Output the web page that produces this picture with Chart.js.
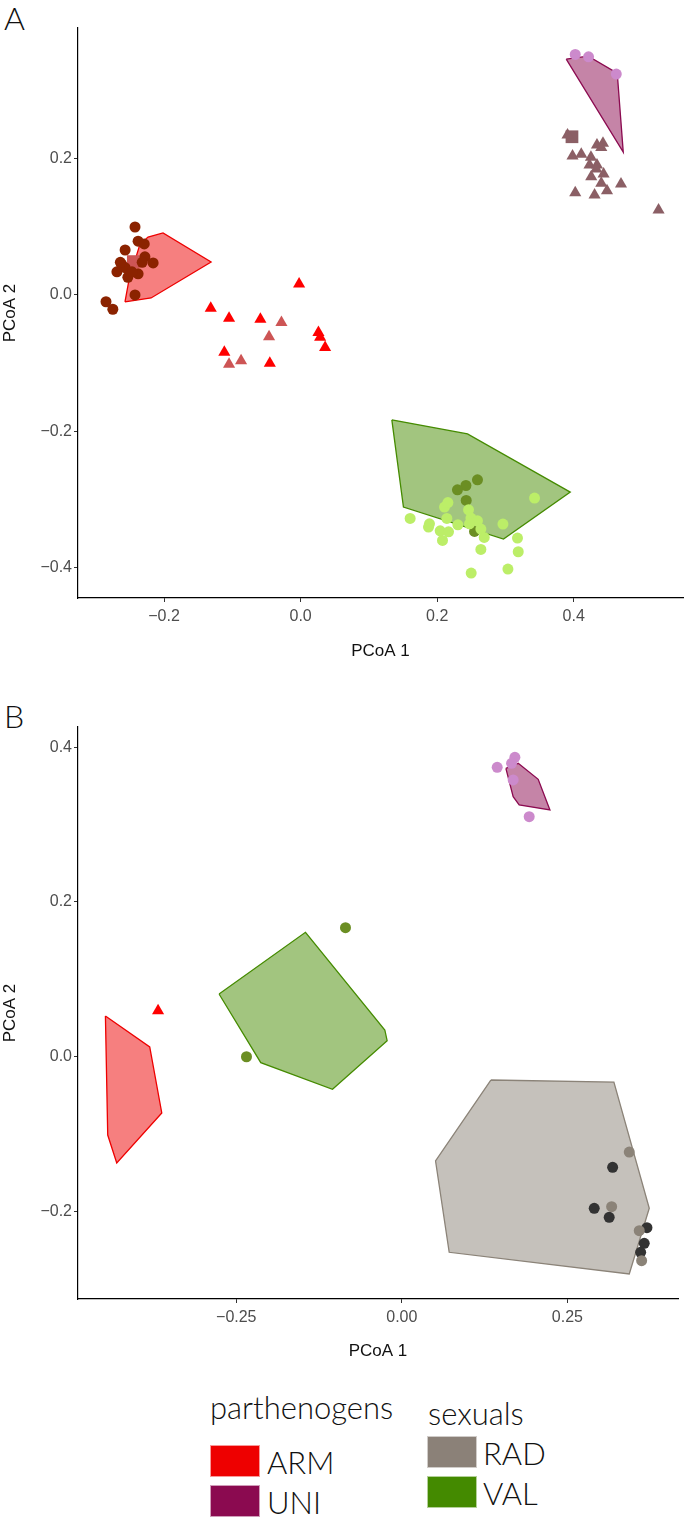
<!DOCTYPE html>
<html>
<head>
<meta charset="utf-8">
<script src="https://cdn.jsdelivr.net/npm/chart.js@4/dist/chart.umd.min.js"></script>
<style>
  body { margin: 0; background: #fff; width: 685px; height: 1526px; position: relative; overflow: hidden; }
  .box { position: absolute; left: 0; width: 685px; }
  .tag { position: absolute; left: 4px; font-family: Lato, "DejaVu Sans", sans-serif; font-weight: 300; font-size: 32px; color: #111; line-height: 1; }
  .legend { position: absolute; font-family: Lato, "DejaVu Sans", sans-serif; font-weight: 300; color: #111; }
  .legend .title { position: absolute; font-size: 31px; white-space: nowrap; line-height: 1; }
  .legend .sw { position: absolute; width: 50px; height: 32px; box-sizing: border-box; border: 1px solid rgba(255,255,255,0.6); }
  .legend .lab { position: absolute; font-size: 31px; line-height: 1; white-space: nowrap; }
</style>
</head>
<body>
<div class="tag" style="top:2px">A</div>
<div class="tag" style="top:700px">B</div>
<div class="box" style="top:0;height:680px"><canvas id="chartA"></canvas></div>
<div class="box" style="top:690px;height:690px"><canvas id="chartB"></canvas></div>
<div class="legend" id="legend"></div>

<script>
// ---- colours per group ----
const ARM = '#ee0000';
const UNI = '#8b0a50';
const RAD = '#8b8378';
const VAL = '#458b00';

// ---- panel A (PCoA 1, PCoA 2) ----
const xTicksA = [-0.2, 0, 0.2, 0.4];
const yTicksA = [-0.4, -0.2, 0, 0.2];

const armHullA = [[-0.2572, -0.0103], [-0.2513, 0.0220], [-0.2352, 0.0748], [-0.2234, 0.0851],
  [-0.2015, 0.0910], [-0.1311, 0.0484], [-0.2190, -0.0044]];
const armCirclesA = [[-0.2425, 0.0998], [-0.238, 0.079], [-0.229, 0.075], [-0.257, 0.066], [-0.228, 0.056],
  [-0.216, 0.047], [-0.269, 0.034], [-0.262, 0.045], [-0.253, 0.026], [-0.238, 0.031], [-0.2425, 0.0],
  [-0.285, -0.010], [-0.275, -0.021], [-0.257, 0.040], [-0.247, 0.034], [-0.232, 0.048], [-0.264, 0.048]];
const armSquaresA = [[-0.245, 0.049]];
const armTrianglesA = [[-0.0022, 0.0161], [-0.1316, -0.0195], [-0.1048, -0.0342], [-0.0589, -0.0357],
  [-0.1117, -0.0841], [-0.0451, -0.1002], [0.0261, -0.0553], [0.0286, -0.0621], [0.0359, -0.0773]];
const armTrianglesPaleA = [[-0.0281, -0.0406], [-0.0462, -0.0612], [-0.0872, -0.0968], [-0.1048, -0.1017]];

const uniHullA = [[0.3890, 0.3463], [0.4212, 0.3507], [0.4637, 0.3258], [0.4725, 0.2098]];
const uniCirclesA = [[0.4022, 0.3532], [0.4217, 0.3497], [0.4623, 0.3243]];
const uniTrianglesA = [[0.3909, 0.2348], [0.4340, 0.2201], [0.4428, 0.2226], [0.4403, 0.2167], [0.3982, 0.2040],
  [0.4110, 0.2065], [0.4252, 0.2021], [0.4231, 0.1908], [0.4340, 0.1908], [0.4330, 0.1849], [0.4437, 0.1776],
  [0.4256, 0.1736], [0.4403, 0.1639], [0.4487, 0.1530], [0.4692, 0.1629], [0.4022, 0.1501], [0.4305, 0.1467],
  [0.5242, 0.1247]];
const uniSquaresA = [[0.3974, 0.2323]];

const valHullA = [[0.1336, -0.1834], [0.2444, -0.2040], [0.3949, -0.2895], [0.2971, -0.3585], [0.1506, -0.3115]];
const valDarkA = [[0.2590, -0.2715], [0.2421, -0.2798], [0.2297, -0.2861], [0.2425, -0.3018], [0.2547, -0.3473]];
const valLightA = [[0.3426, -0.2983], [0.1604, -0.3282], [0.1887, -0.3360], [0.1873, -0.3409], [0.2107, -0.3115],
  [0.2157, -0.3048], [0.2142, -0.3282], [0.2303, -0.3375], [0.2044, -0.3463], [0.2166, -0.3478], [0.2078, -0.3605],
  [0.2459, -0.3155], [0.2494, -0.3277], [0.2590, -0.3316], [0.2473, -0.3360], [0.2640, -0.3438], [0.2689, -0.3561],
  [0.2963, -0.3365], [0.3176, -0.3570], [0.3187, -0.3771], [0.2640, -0.3737], [0.3036, -0.4025], [0.2498, -0.4084]];

// ---- panel B ----
const xTicksB = [-0.25, 0, 0.25];
const yTicksB = [-0.2, 0, 0.2, 0.4];

const armHullB = [[-0.4476, 0.0524], [-0.3807, 0.0123], [-0.3625, -0.0730], [-0.4305, -0.1377], [-0.4441, -0.1015]];
const armTrianglesB = [[-0.3681, 0.0592]];

const valHullB = [[-0.2760, 0.0808], [-0.1455, 0.1606], [-0.0257, 0.0343], [-0.0222, 0.0204], [-0.1047, -0.0424], [-0.2130, -0.0080]];
const valDarkB = [[-0.0851, 0.1665], [-0.2346, -0.0003]];

const uniHullB = [[0.1571, 0.3726], [0.1757, 0.3791], [0.2059, 0.3584], [0.2236, 0.3188], [0.1772, 0.3253], [0.1681, 0.3359]];
const uniCirclesB = [[0.1440, 0.3739], [0.1707, 0.3868], [0.1657, 0.3791], [0.1681, 0.3575], [0.1923, 0.3100]];

const radHullB = [[0.1344, -0.0304], [0.3202, -0.0330], [0.3736, -0.1962], [0.3434, -0.2812], [0.0715, -0.2531], [0.0509, -0.1351]];
const radGreyB = [[0.3434, -0.1235], [0.3168, -0.1942], [0.3585, -0.2252], [0.3621, -0.2640]];
const radDarkB = [[0.3183, -0.1432], [0.2905, -0.1963], [0.3131, -0.2079], [0.3701, -0.2213], [0.3660, -0.2415], [0.3606, -0.2531]];

// ---- legend ----
const legendGroups = [
  { title: 'parthenogens', names: ['ARM', 'UNI'], colors: [ARM, UNI] },
  { title: 'sexuals', names: ['RAD', 'VAL'], colors: ['#8b8178', '#448a00'] }
];

function pts(arr) { return arr.map(p => ({ x: p[0], y: p[1] })); }

function fade(hex, a) {
  const n = parseInt(hex.slice(1), 16);
  return 'rgba(' + (n >> 16) + ',' + ((n >> 8) & 255) + ',' + (n & 255) + ',' + a + ')';
}

function hull(arr, color) {
  const closed = arr.concat([arr[0]]);
  return {
    type: 'line', data: pts(closed), borderColor: color, borderWidth: 1.3,
    backgroundColor: fade(color, 0.5), fill: 'shape', pointRadius: 0, tension: 0, order: 2
  };
}

function marks(arr, color, style, r) {
  return {
    type: 'scatter', data: pts(arr), pointStyle: style, pointRadius: r,
    backgroundColor: color, borderWidth: 0, order: 1
  };
}

function fmt(dec) {
  return v => (v < -1e-9 ? '\u2212' : '') + Math.abs(v).toFixed(dec);
}

function axis(min, max, ticks, dec, title, pad, extra) {
  return Object.assign({
    type: 'linear', min: min, max: max,
    afterBuildTicks: s => { s.ticks = ticks.map(v => ({ value: v })); },
    grid: { display: true, drawOnChartArea: false, drawTicks: true, tickLength: 4, color: '#333', lineWidth: 1 },
    border: { display: true, color: '#000', width: 1.2 },
    ticks: { callback: fmt(dec), color: '#4d4d4d', font: { family: 'Liberation Sans, Arial', size: 16 }, padding: pad, maxRotation: 0 },
    title: { display: true, text: title, color: '#111', font: { family: 'Liberation Sans, Arial', size: 17 } }
  }, extra);
}

function makeChart(id, o) {
  return new Chart(document.getElementById(id), {
    type: 'scatter',
    data: { datasets: o.datasets },
    options: {
      responsive: true, maintainAspectRatio: false, animation: false, events: [],
      layout: { padding: { top: o.top, right: o.right, left: 0, bottom: 0 }, autoPadding: false },
      plugins: { legend: { display: false }, tooltip: { enabled: false } },
      scales: {
        x: axis(o.xmin, o.xmax, o.xticks, o.xdec, 'PCoA 1', 5, {
          afterFit: s => { s.height = o.xh; }
        }),
        y: axis(o.ymin, o.ymax, o.yticks, o.ydec, 'PCoA 2', 2, {
          afterFit: s => { s.width = 78; }
        })
      }
    }
  });
}

const chartA = makeChart('chartA', {
  top: 28, right: 2, xh: 82,
  xmin: -0.326, xmax: 0.560, xticks: xTicksA, xdec: 1,
  ymin: -0.445, ymax: 0.392, yticks: yTicksA, ydec: 1,
  datasets: [
    hull(armHullA, ARM), hull(uniHullA, UNI), hull(valHullA, VAL),
    marks(armCirclesA, '#8b2300', 'circle', 5.5),
    marks(armSquaresA, '#cd5555', 'rect', 9),
    marks(armTrianglesA, '#ff0000', 'triangle', 7),
    marks(armTrianglesPaleA, '#cd5555', 'triangle', 7),
    marks(uniCirclesA, '#cc8acc', 'circle', 5.5),
    marks(uniTrianglesA, '#8b5f65', 'triangle', 7),
    marks(uniSquaresA, '#8b5f65', 'rect', 9),
    marks(valLightA, '#bcee68', 'circle', 5.5),
    marks(valDarkA, '#6b8e23', 'circle', 5.5)
  ]
});

const chartB = makeChart('chartB', {
  top: 37, right: 7, xh: 81,
  xmin: -0.489, xmax: 0.417, xticks: xTicksB, xdec: 2,
  ymin: -0.3135, ymax: 0.426, yticks: yTicksB, ydec: 1,
  datasets: [
    hull(armHullB, ARM), hull(valHullB, VAL), hull(uniHullB, UNI), hull(radHullB, RAD),
    marks(armTrianglesB, '#ff0000', 'triangle', 7),
    marks(valDarkB, '#6b8e23', 'circle', 5.5),
    marks(uniCirclesB, '#cc8acc', 'circle', 5.5),
    marks(radGreyB, '#8b8378', 'circle', 5.5),
    marks(radDarkB, '#333333', 'circle', 5.5)
  ]
});

// title offsets from the axis edges
[chartA, chartB].forEach(c => {
  c.options.scales.x.title.padding = { top: 0, bottom: 18 };
  c.options.scales.y.title.padding = { top: 0, bottom: 0 };
  c.update();
});

// legend built from the group arrays
const legend = document.getElementById('legend');
const legendPos = [
  { tx: 210, ty: 1392, sx: 210, sy: [1445, 1485], lx: 267 },
  { tx: 428, ty: 1398, sx: 427, sy: [1436, 1476], lx: 483 }
];
legendGroups.forEach((g, i) => {
  const p = legendPos[i];
  let html = '<div class="title" style="left:' + p.tx + 'px;top:' + p.ty + 'px">' + g.title + '</div>';
  g.names.forEach((n, j) => {
    html += '<div class="sw" style="left:' + p.sx + 'px;top:' + p.sy[j] + 'px;background:' + g.colors[j] + '"></div>';
    html += '<div class="lab" style="left:' + p.lx + 'px;top:' + (p.sy[j] + 2) + 'px">' + n + '</div>';
  });
  legend.innerHTML += html;
});
</script>
</body>
</html>
